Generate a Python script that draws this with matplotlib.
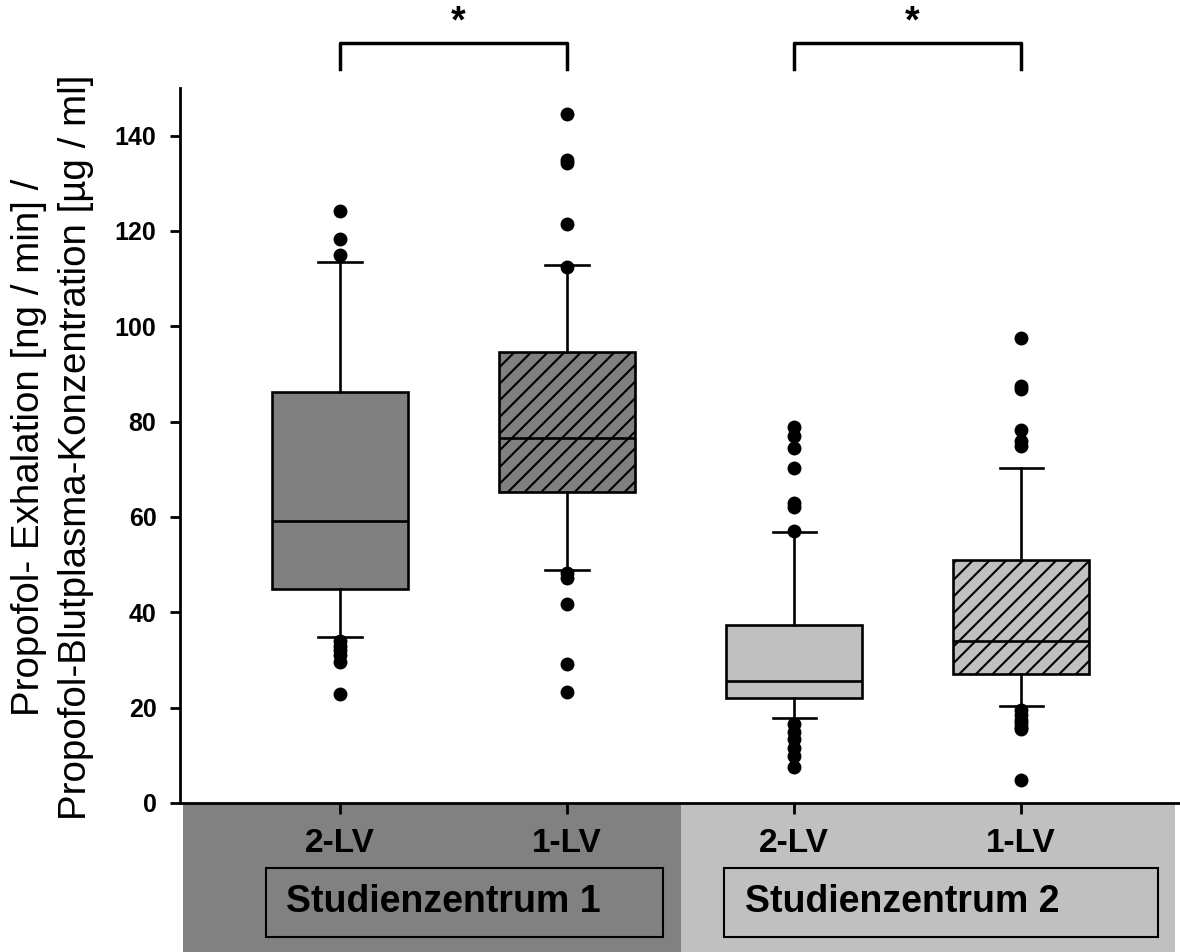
import matplotlib
matplotlib.use('Agg')
import matplotlib.pyplot as plt
import matplotlib.transforms as mtransforms
from matplotlib.patches import Rectangle

plt.rcParams['font.family'] = ['Liberation Sans', 'DejaVu Sans']
plt.rcParams['hatch.linewidth'] = 1.5

# Daten
groups = ['2-LV', '1-LV', '2-LV', '1-LV']
centres = ['Studienzentrum 1', 'Studienzentrum 2']
q1 = [45.0, 65.3, 22.0, 27.0]
median = [59.2, 76.5, 25.6, 34.0]
q3 = [86.3, 94.7, 37.4, 51.0]
whisker_lo = [34.8, 48.8, 17.8, 20.3]
whisker_hi = [113.6, 112.8, 56.9, 70.2]
outliers = [
    [124.2, 118.4, 115.0, 34.0, 33.0, 32.0, 31.0, 29.5, 22.8],
    [144.5, 135.0, 134.2, 121.5, 112.5, 48.2, 47.2, 41.7, 29.2, 23.3],
    [78.8, 77.0, 74.4, 70.2, 63.0, 62.0, 57.0, 16.5, 15.0, 13.5, 11.5, 9.8, 7.5],
    [97.5, 87.5, 86.8, 78.2, 76.0, 74.8, 19.5, 18.5, 17.5, 16.8, 16.0, 15.5, 4.8],
]
box_colors = ['#808080', '#808080', '#c0c0c0', '#c0c0c0']
box_hatch = ['', '//', '', '//']
sig_pairs = [(1, 2), (3, 4)]

fig = plt.figure(figsize=(11.8, 9.52), dpi=100)
ax = fig.add_axes([180/1180, 149/952, 1000/1180, 715/952])
ax.set_zorder(2)
ax.patch.set_alpha(0)

stats = []
for i in range(4):
    stats.append(dict(med=median[i], q1=q1[i], q3=q3[i],
                      whislo=whisker_lo[i], whishi=whisker_hi[i],
                      fliers=outliers[i]))
pos = [1, 2, 3, 4]
bp = ax.bxp(stats, positions=pos, widths=0.6, capwidths=0.19,
            patch_artist=True, showfliers=True,
            boxprops=dict(linewidth=1.9, edgecolor='black'),
            medianprops=dict(color='black', linewidth=1.9),
            whiskerprops=dict(color='black', linewidth=1.9),
            capprops=dict(color='black', linewidth=1.9),
            flierprops=dict(marker='o', markerfacecolor='black',
                            markeredgecolor='black', markersize=9))
for b, c, h in zip(bp['boxes'], box_colors, box_hatch):
    b.set_facecolor(c)
    b.set_hatch(h)

ax.set_xlim(0.295, 4.70)
ax.set_ylim(0, 150)
ax.set_yticks(range(0, 141, 20))
for lab in ax.get_yticklabels():
    lab.set_fontweight('bold')
ax.tick_params(axis='y', labelsize=18, width=2, length=7, direction='out', pad=10)
ax.tick_params(axis='x', labelsize=24, width=2, length=8, direction='out', pad=10)
ax.set_xticks(pos)
ax.set_xticklabels(groups, fontweight='bold')
for s in ['top', 'right']:
    ax.spines[s].set_visible(False)
for s in ['left', 'bottom']:
    ax.spines[s].set_linewidth(2)

# Signifikanzklammern
for a, b in sig_pairs:
    ax.plot([a, a, b, b], [154, 159.5, 159.5, 154], color='black',
            linewidth=2.5, clip_on=False)
    ax.text((a + b) / 2 + 0.02, 167.5, '*', ha='center', va='top', fontsize=27,
            fontweight='bold', clip_on=False)

# Unterer Bereich mit Studienzentren
trans = mtransforms.blended_transform_factory(ax.transData, fig.transFigure)
panel_cols = ['#818181', '#c0c0c0']
panel_x = [(0.308, 2.5), (2.5, 4.68)]
label_x = [(0.674, 2.423), (2.692, 4.604)]
for (x0, x1), (l0, l1), c, name in zip(panel_x, label_x, panel_cols, centres):
    fig.patches.append(Rectangle((x0, 0.0), x1 - x0, 0.155, transform=trans,
                                 facecolor=c, edgecolor='none', zorder=0))
    fig.patches.append(Rectangle((l0, 0.0158), l1 - l0, 0.0724, transform=trans,
                                 facecolor=c, edgecolor='black', linewidth=1.5,
                                 zorder=1))
    fig.text(l0 + 0.09, 0.052, name, transform=trans, ha='left', va='center',
             fontsize=27, fontweight='bold')

fig.text(0.0445, 0.530,
         'Propofol- Exhalation [ng / min] /\nPropofol-Blutplasma-Konzentration [µg / ml]',
         rotation=90, ha='center', va='center', fontsize=27.7, linespacing=1.38)

fig.savefig('out.png', dpi=100)
